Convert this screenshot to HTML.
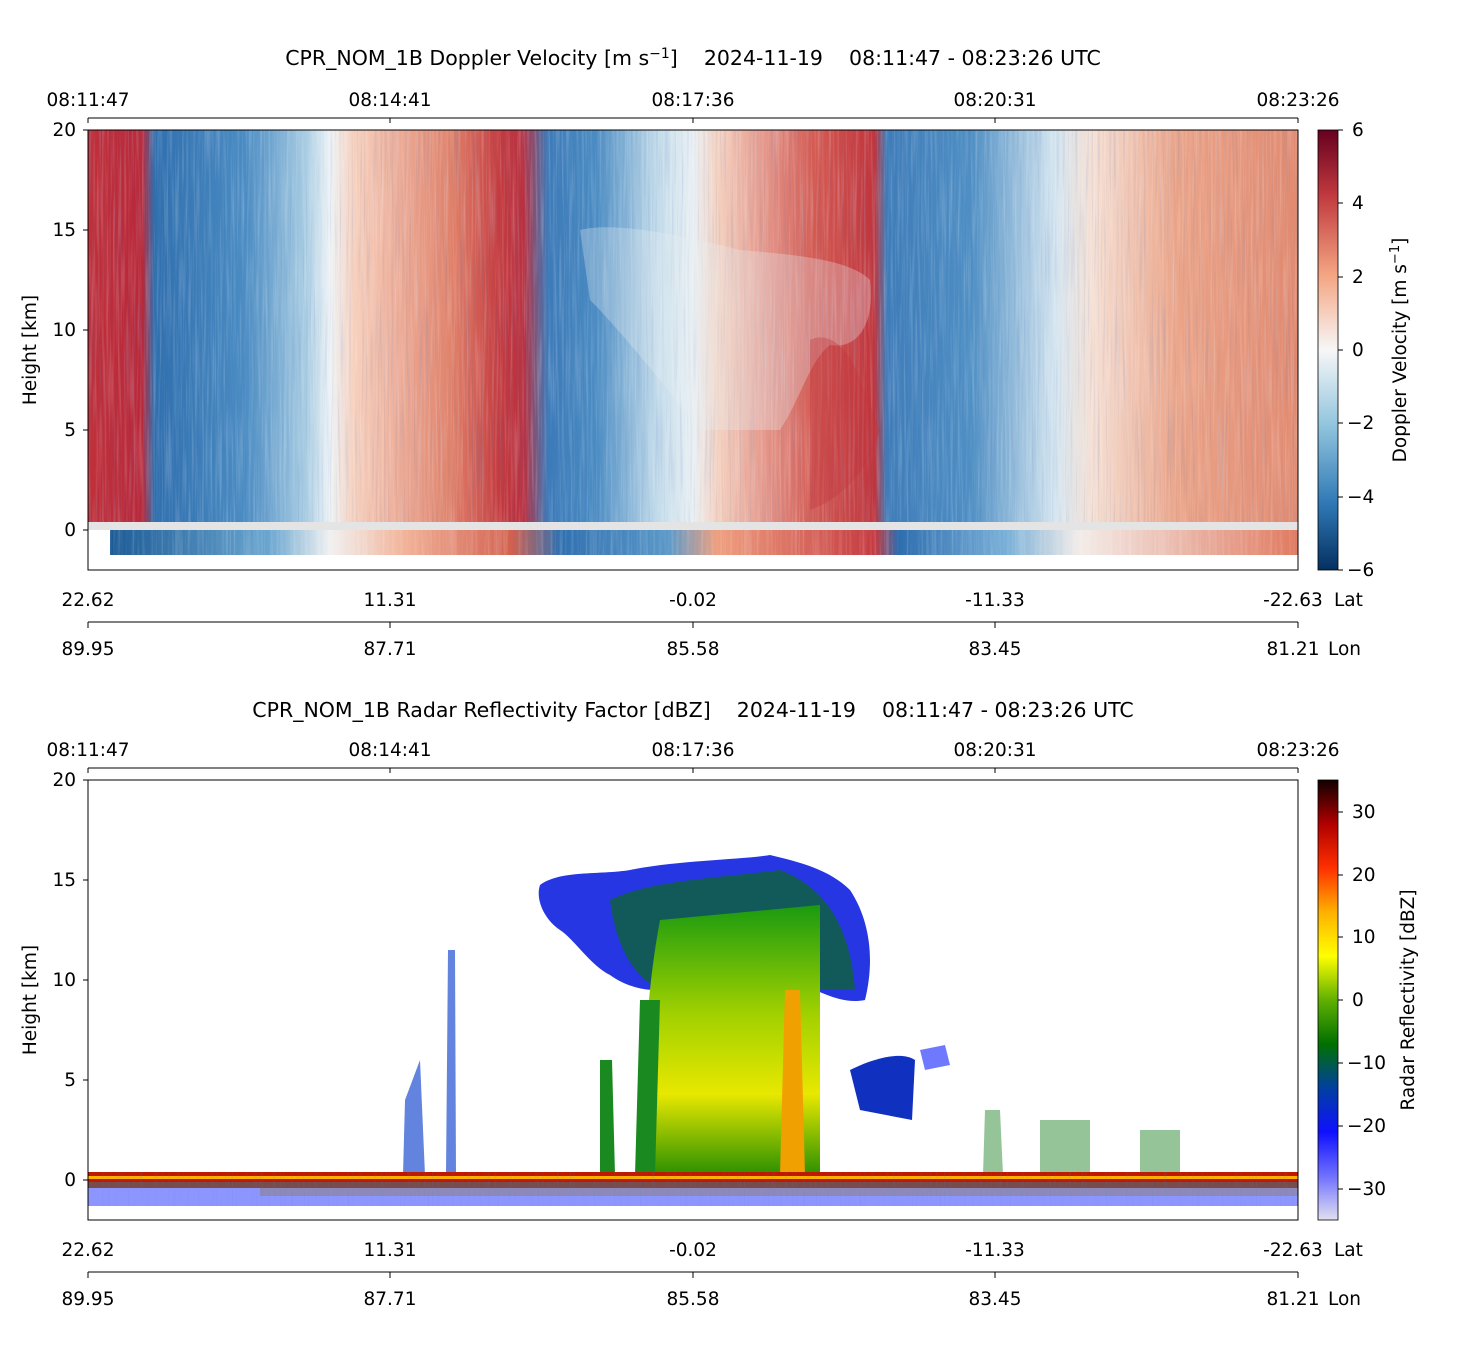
<!DOCTYPE html>
<html><head><meta charset="utf-8"><style>
body{margin:0;background:#fff;}
svg text{font-family:"DejaVu Sans","Liberation Sans",sans-serif;font-size:18.5px;fill:#000;}
svg text.t{font-size:20.5px;}
</style></head><body>
<svg width="1459" height="1350" xmlns="http://www.w3.org/2000/svg">
<defs>
<linearGradient id="dv" x1="88" x2="1298" y1="0" y2="0" gradientUnits="userSpaceOnUse">
<stop offset="0" stop-color="#c0303a"/><stop offset="0.045" stop-color="#b8283a"/>
<stop offset="0.055" stop-color="#2f6fae"/><stop offset="0.13" stop-color="#4a8cc3"/>
<stop offset="0.18" stop-color="#a9cde3"/><stop offset="0.2" stop-color="#eef3f6"/>
<stop offset="0.22" stop-color="#f7d0bd"/><stop offset="0.3" stop-color="#e1826a"/>
<stop offset="0.34" stop-color="#c43a3e"/><stop offset="0.36" stop-color="#b93040"/>
<stop offset="0.38" stop-color="#3c7ab8"/><stop offset="0.42" stop-color="#4a8cc3"/>
<stop offset="0.47" stop-color="#c2dbea"/><stop offset="0.5" stop-color="#eaf0f4"/>
<stop offset="0.52" stop-color="#f5d2c0"/><stop offset="0.6" stop-color="#d45a52"/>
<stop offset="0.65" stop-color="#c0343c"/><stop offset="0.66" stop-color="#3e7cb9"/>
<stop offset="0.73" stop-color="#4e8fc4"/><stop offset="0.8" stop-color="#d6e6f0"/>
<stop offset="0.83" stop-color="#f6e0d4"/><stop offset="0.9" stop-color="#eba488"/>
<stop offset="1" stop-color="#e28a70"/>
</linearGradient>
<linearGradient id="cb1" x1="0" x2="0" y1="0" y2="1">
<stop offset="0" stop-color="#67001f"/><stop offset="0.15" stop-color="#c13a3f"/>
<stop offset="0.33" stop-color="#f4a582"/><stop offset="0.5" stop-color="#f7f7f7"/>
<stop offset="0.67" stop-color="#92c5de"/><stop offset="0.85" stop-color="#2f78b5"/>
<stop offset="1" stop-color="#053061"/>
</linearGradient>
<linearGradient id="cb2" x1="0" x2="0" y1="0" y2="1">
<stop offset="0" stop-color="#100000"/><stop offset="0.1" stop-color="#b00000"/>
<stop offset="0.2" stop-color="#ff3000"/><stop offset="0.3" stop-color="#ffb000"/>
<stop offset="0.4" stop-color="#ffff00"/><stop offset="0.5" stop-color="#60b000"/>
<stop offset="0.6" stop-color="#007000"/><stop offset="0.7" stop-color="#0040a0"/>
<stop offset="0.8" stop-color="#1010ff"/><stop offset="0.9" stop-color="#7070ff"/>
<stop offset="1" stop-color="#e0e0f0"/>
</linearGradient>
<linearGradient id="core" x1="0" x2="0" y1="0" y2="1">
<stop offset="0" stop-color="#1a9a10"/><stop offset="0.4" stop-color="#a0d000"/>
<stop offset="0.7" stop-color="#e8e800"/><stop offset="1" stop-color="#2a9000"/>
</linearGradient>
<filter id="streak" x="0" y="0" width="100%" height="100%">
<feTurbulence type="fractalNoise" baseFrequency="0.45 0.012" numOctaves="2" seed="3"/>
<feColorMatrix type="matrix" values="0 0 0 0 1 0 0 0 0 1 0 0 0 0 1 0 0 0 1.4 -0.6"/>
</filter>
<filter id="streak2" x="0" y="0" width="100%" height="100%">
<feTurbulence type="fractalNoise" baseFrequency="0.5 0.01" numOctaves="2" seed="7"/>
<feColorMatrix type="matrix" values="0 0 0 0 0.1 0 0 0 0 0.2 0 0 0 0 0.5 0 0 0 1.6 -0.8"/>
</filter>
<linearGradient id="sub" x1="88" x2="1298" y1="0" y2="0" gradientUnits="userSpaceOnUse">
<stop offset="0" stop-color="#ffffff"/><stop offset="0.02" stop-color="#1c5b96"/>
<stop offset="0.15" stop-color="#6aa6d0"/><stop offset="0.2" stop-color="#f1f1f1"/>
<stop offset="0.26" stop-color="#f2b49a"/><stop offset="0.35" stop-color="#d2604e"/>
<stop offset="0.39" stop-color="#3070b0"/><stop offset="0.48" stop-color="#5a98c8"/>
<stop offset="0.52" stop-color="#eea080"/><stop offset="0.65" stop-color="#c53a40"/>
<stop offset="0.67" stop-color="#2e6eaf"/><stop offset="0.76" stop-color="#7ab0d8"/>
<stop offset="0.82" stop-color="#f3ece8"/><stop offset="1" stop-color="#e07a60"/>
</linearGradient>
</defs>

<!-- ===== TOP PLOT ===== -->
<text class="t" x="693" y="65" text-anchor="middle" xml:space="preserve">CPR_NOM_1B Doppler Velocity [m s<tspan dy="-7" font-size="14">−1</tspan><tspan dy="7">]    2024-11-19    08:11:47 - 08:23:26 UTC</tspan></text>
<rect x="88" y="130" width="1210" height="392" fill="url(#dv)"/>
<rect x="88" y="130" width="1210" height="392" filter="url(#streak)" opacity="0.35"/>
<rect x="88" y="130" width="1210" height="392" filter="url(#streak2)" opacity="0.3"/>
<path d="M580,230 C620,220 700,240 740,250 C800,255 850,260 870,280 C875,320 860,350 830,345 C810,360 800,400 780,430 L700,430 C660,380 620,330 590,300 Z" fill="#e8eef3" opacity="0.3"/>
<path d="M810,340 C830,330 850,350 860,380 L880,430 C870,470 840,500 810,510 Z" fill="#c0343c" opacity="0.35"/>
<rect x="88" y="522" width="1210" height="8" fill="#e4e4e4"/>
<rect x="88" y="530" width="1210" height="25" fill="url(#sub)"/>
<rect x="88" y="530" width="1210" height="25" filter="url(#streak)" opacity="0.3"/>
<rect x="88" y="530" width="22" height="25" fill="#fff"/>
<rect x="88" y="130" width="1210" height="440" fill="none" stroke="#000" stroke-width="1"/>
<line x1="88" y1="118" x2="1298" y2="118" stroke="#000"/>
<g stroke="#000"><line x1="88" y1="118" x2="88" y2="123"/><line x1="390" y1="118" x2="390" y2="123"/><line x1="693" y1="118" x2="693" y2="123"/><line x1="995" y1="118" x2="995" y2="123"/><line x1="1298" y1="118" x2="1298" y2="123"/></g>
<g text-anchor="middle"><text x="88" y="106">08:11:47</text><text x="390" y="106">08:14:41</text><text x="693" y="106">08:17:36</text><text x="995" y="106">08:20:31</text><text x="1298" y="106">08:23:26</text></g>
<g stroke="#000"><line x1="83" y1="130" x2="88" y2="130"/><line x1="83" y1="230" x2="88" y2="230"/><line x1="83" y1="330" x2="88" y2="330"/><line x1="83" y1="430" x2="88" y2="430"/><line x1="83" y1="530" x2="88" y2="530"/></g>
<g text-anchor="end"><text x="76" y="136">20</text><text x="76" y="236">15</text><text x="76" y="336">10</text><text x="76" y="436">5</text><text x="76" y="536">0</text></g>
<text transform="translate(36,350) rotate(-90)" text-anchor="middle" font-size="20">Height [km]</text>
<g text-anchor="middle"><text x="88" y="606">22.62</text><text x="390" y="606">11.31</text><text x="693" y="606">-0.02</text><text x="995" y="606">-11.33</text><text x="1293" y="606">-22.63</text></g>
<text x="1334" y="606">Lat</text>
<line x1="88" y1="622" x2="1298" y2="622" stroke="#000"/>
<g stroke="#000"><line x1="88" y1="622" x2="88" y2="628"/><line x1="390" y1="622" x2="390" y2="628"/><line x1="693" y1="622" x2="693" y2="628"/><line x1="995" y1="622" x2="995" y2="628"/><line x1="1298" y1="622" x2="1298" y2="628"/></g>
<g text-anchor="middle"><text x="88" y="655">89.95</text><text x="390" y="655">87.71</text><text x="693" y="655">85.58</text><text x="995" y="655">83.45</text><text x="1293" y="655">81.21</text></g>
<text x="1328" y="655">Lon</text>
<rect x="1318" y="130" width="20" height="440" fill="url(#cb1)" stroke="#000" stroke-width="0.8"/>
<g stroke="#000"><line x1="1338" y1="130" x2="1343" y2="130"/><line x1="1338" y1="203" x2="1343" y2="203"/><line x1="1338" y1="277" x2="1343" y2="277"/><line x1="1338" y1="350" x2="1343" y2="350"/><line x1="1338" y1="423" x2="1343" y2="423"/><line x1="1338" y1="497" x2="1343" y2="497"/><line x1="1338" y1="570" x2="1343" y2="570"/></g>
<g><text x="1352" y="136">6</text><text x="1352" y="209">4</text><text x="1352" y="283">2</text><text x="1352" y="356">0</text><text x="1347" y="429">−2</text><text x="1347" y="503">−4</text><text x="1347" y="576">−6</text></g>
<text transform="translate(1406,350) rotate(-90)" text-anchor="middle">Doppler Velocity [m s<tspan dy="-7" font-size="13">−1</tspan><tspan dy="7">]</tspan></text>

<!-- ===== BOTTOM PLOT ===== -->
<text class="t" x="693" y="717" text-anchor="middle" xml:space="preserve">CPR_NOM_1B Radar Reflectivity Factor [dBZ]    2024-11-19    08:11:47 - 08:23:26 UTC</text>
<path d="M540,885 C560,870 600,875 630,870 C680,860 740,860 770,855 C800,862 830,870 850,890 C870,920 875,960 865,1000 C840,1005 820,990 800,985 L690,985 C660,995 630,990 610,975 C590,965 575,940 560,930 C545,920 535,900 540,885 Z" fill="#1020e0" opacity="0.9"/>
<path d="M610,900 C650,880 720,878 780,870 C820,885 850,920 855,990 L830,990 L660,990 C630,975 615,940 610,900 Z" fill="#0a6a20" opacity="0.7"/>
<path d="M660,920 L820,905 L820,1175 L650,1175 C640,1100 645,1000 660,920 Z" fill="url(#core)"/>
<path d="M640,1000 L660,1000 L655,1175 L635,1175 Z M600,1060 L612,1060 L615,1175 L600,1175 Z" fill="#1a8a20"/>
<path d="M785,990 L800,990 L805,1175 L780,1175 Z" fill="#f0a000"/>
<path d="M850,1070 C870,1060 900,1050 915,1060 L912,1120 L860,1110 Z" fill="#1030c0"/>
<path d="M920,1050 L945,1045 L950,1065 L925,1070 Z" fill="#3040ff" opacity="0.7"/>
<path d="M985,1110 L1000,1110 L1003,1175 L983,1175 Z M1040,1120 L1090,1120 L1090,1175 L1040,1175 Z M1140,1130 L1180,1130 L1180,1175 L1140,1175 Z" fill="#2a8a30" opacity="0.5"/>
<path d="M405,1100 L420,1060 L425,1175 L403,1175 Z M448,950 L455,950 L456,1175 L446,1175 Z" fill="#2050d0" opacity="0.7"/>
<rect x="88" y="1172" width="1210" height="10" fill="#c01800"/>
<rect x="88" y="1176" width="1210" height="3" fill="#ffb000"/>
<rect x="88" y="1182" width="1210" height="6" fill="#400000" opacity="0.7"/>
<rect x="260" y="1188" width="1038" height="8" fill="#ffd000" opacity="0.6"/>
<rect x="88" y="1188" width="1210" height="18" fill="#3040ff" opacity="0.55"/>
<rect x="88" y="1172" width="1210" height="34" filter="url(#streak2)" opacity="0.3"/>
<rect x="88" y="780" width="1210" height="440" fill="none" stroke="#000" stroke-width="1"/>
<line x1="88" y1="768" x2="1298" y2="768" stroke="#000"/>
<g stroke="#000"><line x1="88" y1="768" x2="88" y2="773"/><line x1="390" y1="768" x2="390" y2="773"/><line x1="693" y1="768" x2="693" y2="773"/><line x1="995" y1="768" x2="995" y2="773"/><line x1="1298" y1="768" x2="1298" y2="773"/></g>
<g text-anchor="middle"><text x="88" y="756">08:11:47</text><text x="390" y="756">08:14:41</text><text x="693" y="756">08:17:36</text><text x="995" y="756">08:20:31</text><text x="1298" y="756">08:23:26</text></g>
<g stroke="#000"><line x1="83" y1="780" x2="88" y2="780"/><line x1="83" y1="880" x2="88" y2="880"/><line x1="83" y1="980" x2="88" y2="980"/><line x1="83" y1="1080" x2="88" y2="1080"/><line x1="83" y1="1180" x2="88" y2="1180"/></g>
<g text-anchor="end"><text x="76" y="786">20</text><text x="76" y="886">15</text><text x="76" y="986">10</text><text x="76" y="1086">5</text><text x="76" y="1186">0</text></g>
<text transform="translate(36,1000) rotate(-90)" text-anchor="middle" font-size="20">Height [km]</text>
<g text-anchor="middle"><text x="88" y="1256">22.62</text><text x="390" y="1256">11.31</text><text x="693" y="1256">-0.02</text><text x="995" y="1256">-11.33</text><text x="1293" y="1256">-22.63</text></g>
<text x="1334" y="1256">Lat</text>
<line x1="88" y1="1272" x2="1298" y2="1272" stroke="#000"/>
<g stroke="#000"><line x1="88" y1="1272" x2="88" y2="1278"/><line x1="390" y1="1272" x2="390" y2="1278"/><line x1="693" y1="1272" x2="693" y2="1278"/><line x1="995" y1="1272" x2="995" y2="1278"/><line x1="1298" y1="1272" x2="1298" y2="1278"/></g>
<g text-anchor="middle"><text x="88" y="1305">89.95</text><text x="390" y="1305">87.71</text><text x="693" y="1305">85.58</text><text x="995" y="1305">83.45</text><text x="1293" y="1305">81.21</text></g>
<text x="1328" y="1305">Lon</text>
<rect x="1318" y="780" width="20" height="440" fill="url(#cb2)" stroke="#000" stroke-width="0.8"/>
<g stroke="#000"><line x1="1338" y1="812" x2="1343" y2="812"/><line x1="1338" y1="875" x2="1343" y2="875"/><line x1="1338" y1="937" x2="1343" y2="937"/><line x1="1338" y1="1000" x2="1343" y2="1000"/><line x1="1338" y1="1063" x2="1343" y2="1063"/><line x1="1338" y1="1126" x2="1343" y2="1126"/><line x1="1338" y1="1189" x2="1343" y2="1189"/></g>
<g><text x="1352" y="818">30</text><text x="1352" y="881">20</text><text x="1352" y="943">10</text><text x="1352" y="1006">0</text><text x="1347" y="1069">−10</text><text x="1347" y="1132">−20</text><text x="1347" y="1195">−30</text></g>
<text transform="translate(1414,1000) rotate(-90)" text-anchor="middle">Radar Reflectivity [dBZ]</text>
</svg>
</body></html>
